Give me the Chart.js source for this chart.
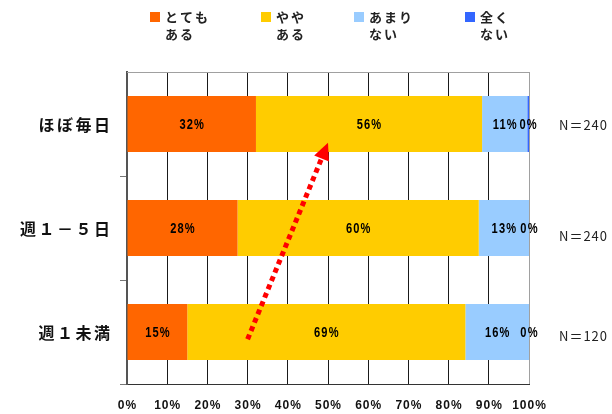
<!DOCTYPE html>
<html>
<head>
<meta charset="utf-8">
<script src="https://cdn.jsdelivr.net/npm/chart.js@4"></script>
<style>
  html, body { margin: 0; padding: 0; background: #fff; }
  #wrap { width: 612px; height: 414px; position: relative; }
</style>
</head>
<body>
<div id="wrap"><canvas id="c"></canvas></div>
<script>
// Frequency groups (rows) and their sample sizes
const categories = ['ほぼ毎日', '週１－５日', '週１未満'];
const sampleSizes = ['N＝240', 'N＝240', 'N＝120'];

// Response shares per group, in percent
const veryMuch = [32.08, 27.5, 15.0];   // とても ある
const somewhat = [56.25, 60.0, 69.17];  // やや ある
const notMuch  = [11.25, 12.5, 15.83];  // あまり ない
const notAtAll = [0.42, 0, 0];          // 全く ない

// Legend captions (two lines each)
const seriesNames = [['とても', 'ある'], ['やや', 'ある'], ['あまり', 'ない'], ['全く', 'ない']];

// Percentage axis ticks
const percentTicks = [0, 10, 20, 30, 40, 50, 60, 70, 80, 90, 100];

const SANS = '"Liberation Sans", Arial, sans-serif';
const CJK = '"Noto Sans CJK JP", "Noto Sans", sans-serif';

// condensed text: draw horizontally squeezed around (x, y)
function narrowText(ctx, txt, x, y, squeeze) {
  ctx.save();
  ctx.translate(x, y);
  ctx.scale(squeeze, 1);
  ctx.fillText(txt, 0, 0);
  ctx.restore();
}

const overlay = {
  id: 'overlay',
  afterDatasetsDraw(chart) {
    const { ctx, chartArea: a, scales: { x, y } } = chart;
    ctx.save();

    // top frame line
    ctx.strokeStyle = '#a0a0a0';
    ctx.lineWidth = 1;
    ctx.beginPath();
    ctx.moveTo(a.left, a.top + 0.5);
    ctx.lineTo(a.right, a.top + 0.5);
    ctx.stroke();

    // value labels centred in each segment
    ctx.font = 'bold 15px ' + SANS;
    ctx.letterSpacing = '1.5px';
    ctx.fillStyle = '#000';
    ctx.textAlign = 'center';
    ctx.textBaseline = 'middle';
    chart.data.datasets.forEach((ds, di) => {
      chart.getDatasetMeta(di).data.forEach((bar, i) => {
        narrowText(ctx, Math.round(ds.data[i]) + '%', (bar.x + bar.base) / 2 + 0.5, bar.y + 1, 0.74);
      });
    });
    ctx.letterSpacing = '0px';

    // trend arrow, red dotted
    const x0 = x.getPixelForValue(30), y0 = y.getPixelForValue(2.07);
    const x1 = x.getPixelForValue(50), y1 = y.getPixelForValue(0.18);
    const dx = x1 - x0, dy = y1 - y0, len = Math.hypot(dx, dy);
    const ux = dx / len, uy = dy / len;
    const head = 17, half = 8;
    const bx = x1 - ux * head, by = y1 - uy * head;
    ctx.strokeStyle = '#ff0000';
    ctx.fillStyle = '#ff0000';
    ctx.lineWidth = 5;
    ctx.setLineDash([5, 4]);
    ctx.beginPath();
    ctx.moveTo(x0, y0);
    ctx.lineTo(bx, by);
    ctx.stroke();
    ctx.setLineDash([]);
    ctx.beginPath();
    ctx.moveTo(x1, y1);
    ctx.lineTo(bx - uy * half, by + ux * half);
    ctx.lineTo(bx + uy * half, by - ux * half);
    ctx.closePath();
    ctx.fill();
    ctx.restore();
  },
  afterDraw(chart) {
    const { ctx, chartArea: a, scales: { x, y } } = chart;
    ctx.save();

    // percentage tick labels under the axis
    ctx.font = 'bold 12px ' + SANS;
    ctx.letterSpacing = '1px';
    ctx.fillStyle = '#111';
    ctx.textAlign = 'center';
    ctx.textBaseline = 'middle';
    percentTicks.forEach(v => {
      ctx.fillText(v + '%', x.getPixelForValue(v) + 0.5, a.bottom + 22);
    });

    // category labels on the left
    ctx.font = 'bold 16px ' + CJK;
    ctx.letterSpacing = '2.5px';
    ctx.textAlign = 'right';
    categories.forEach((c, i) => {
      ctx.fillText(c, 112.5, y.getPixelForValue(i) + 1);
    });

    // sample sizes on the right
    ctx.font = '13px ' + CJK;
    ctx.letterSpacing = '1px';
    ctx.fillStyle = '#222';
    ctx.textAlign = 'left';
    const nudge = [1, 8, 4];
    sampleSizes.forEach((n, i) => {
      ctx.fillText(n, 559, y.getPixelForValue(i) + nudge[i]);
    });

    // legend across the top
    const boxX = [150, 261, 354, 465];
    ctx.font = 'bold 13px ' + CJK;
    ctx.letterSpacing = '2px';
    chart.data.datasets.forEach((ds, i) => {
      ctx.fillStyle = ds.backgroundColor;
      ctx.fillRect(boxX[i], 12, 10, 10);
      ctx.fillStyle = '#222';
      ctx.fillText(seriesNames[i][0], boxX[i] + 15, 17);
      ctx.fillText(seriesNames[i][1], boxX[i] + 15, 34);
    });
    ctx.restore();
  }
};

new Chart(document.getElementById('c'), {
  type: 'bar',
  data: {
    labels: categories,
    datasets: [
      { label: seriesNames[0].join(''), data: veryMuch, backgroundColor: '#FF6600' },
      { label: seriesNames[1].join(''), data: somewhat, backgroundColor: '#FFCC00' },
      { label: seriesNames[2].join(''), data: notMuch,  backgroundColor: '#99CCFF' },
      { label: seriesNames[3].join(''), data: notAtAll, backgroundColor: '#3366FF' }
    ]
  },
  options: {
    indexAxis: 'y',
    responsive: true,
    maintainAspectRatio: false,
    animation: false,
    events: [],
    datasets: { bar: { categoryPercentage: 0.54, barPercentage: 1, borderWidth: 0 } },
    layout: { padding: { left: 0, right: 83, top: 72, bottom: 0 } },
    plugins: { legend: { display: false }, tooltip: { enabled: false } },
    scales: {
      x: {
        stacked: true,
        min: 0,
        max: 100,
        afterBuildTicks: s => { s.ticks = percentTicks.map(v => ({ value: v })); },
        afterFit: s => { s.height = 30; },
        grid: {
          color: c => (c.tick && c.tick.value === 100) ? '#a0a0a0' : '#1a1a1a',
          lineWidth: 1,
          drawTicks: false
        },
        border: { display: true, color: '#333', width: 1 },
        ticks: { display: false }
      },
      y: {
        stacked: true,
        offset: true,
        afterFit: s => { s.width = 127; },
        grid: {
          offset: true,
          drawOnChartArea: false,
          drawTicks: true,
          tickLength: 7,
          tickColor: c => (c.index === 0 || c.index === categories.length) ? 'rgba(0,0,0,0)' : '#777'
        },
        border: { display: true, color: '#555', width: 2 },
        ticks: { display: false }
      }
    }
  },
  plugins: [overlay]
});
</script>
</body>
</html>
